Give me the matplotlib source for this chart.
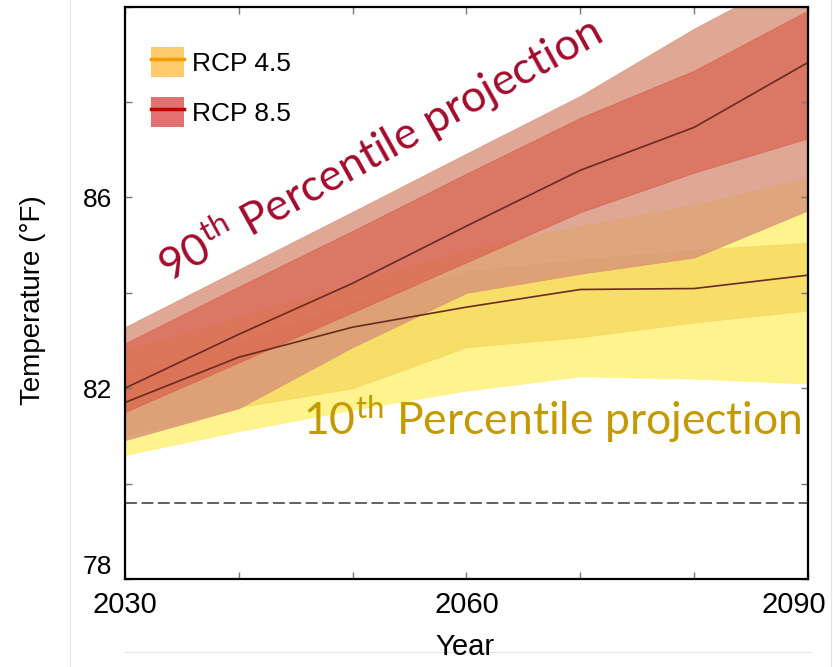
import matplotlib
matplotlib.use("Agg")
import matplotlib.pyplot as plt
from matplotlib.patches import Patch
from matplotlib.lines import Line2D
from matplotlib.transforms import ScaledTranslation

plt.rcParams['font.family'] = ['Liberation Sans', 'DejaVu Sans']
plt.rcParams['mathtext.fontset'] = 'custom'
plt.rcParams['mathtext.rm'] = 'Lato'

years = [2030, 2040, 2050, 2060, 2070, 2080, 2090]

# RCP 4.5: median, likely range (inner) and full range (outer)
rcp45_mid = [81.7, 82.65, 83.28, 83.7, 84.07, 84.09, 84.37]
rcp45_in_lo = [81.0, 81.6, 82.0, 82.86, 83.07, 83.38, 83.63]
rcp45_in_hi = [82.3, 83.0, 83.8, 84.45, 84.7, 84.9, 85.05]
rcp45_out_lo = [80.6, 81.1, 81.55, 81.95, 82.25, 82.2, 82.1]
rcp45_out_hi = [82.8, 83.5, 84.2, 84.9, 85.4, 85.85, 86.4]

# RCP 8.5
rcp85_mid = [82.0, 83.13, 84.2, 85.4, 86.57, 87.47, 88.83]
rcp85_in_lo = [81.5, 82.54, 83.59, 84.64, 85.69, 86.52, 87.24]
rcp85_in_hi = [82.94, 84.13, 85.3, 86.5, 87.67, 88.66, 89.92]
rcp85_out_lo = [80.91, 81.58, 82.86, 84.0, 84.4, 84.74, 85.73]
rcp85_out_hi = [83.28, 84.49, 85.7, 86.92, 88.13, 89.54, 90.8]

baseline_temp = 79.6

fig = plt.figure(figsize=(8.33, 6.67), dpi=100)
ax = fig.add_axes([0.150, 0.132, 0.820, 0.858])

ax.fill_between(years, rcp45_out_lo, rcp45_out_hi, color='#fff17a', alpha=0.85, lw=0.6)
ax.fill_between(years, rcp45_in_lo, rcp45_in_hi, color='#f0d050', alpha=0.6, lw=0.6)
ax.plot(years, rcp45_mid, color='#6b2a1f', lw=1.2)
ax.fill_between(years, rcp85_out_lo, rcp85_out_hi, color='#d89279', alpha=0.8, lw=0.6)
ax.fill_between(years, rcp85_in_lo, rcp85_in_hi, color='#d9503f', alpha=0.55, lw=0.6)
ax.plot(years, rcp85_mid, color='#6b2a1f', lw=1.2)

ax.axhline(baseline_temp, color='#555555', lw=1.3, dashes=(6.6, 2.5))

ax.set_xlim(2030, 2090)
ax.set_ylim(78, 90)
ax.set_xticks(years)
ax.set_xticklabels(['2030', '', '', '2060', '', '', '2090'])
ax.set_yticks([78, 80, 82, 84, 86, 88, 90])
ax.set_yticklabels(['78', '', '82', '', '86', '', ''])
ax.tick_params(direction='in', length=5, width=1, color='#777777',
               top=True, right=True, labelsize=19, pad=9)
plt.setp(ax.get_xticklabels(), fontsize=21)
for sp in ax.spines.values():
    sp.set_linewidth(1.6)
    sp.set_color('black')

# keep the end labels inside the frame
ax.yaxis.get_major_ticks()[0].label1.set_va('bottom')
lab = ax.xaxis.get_major_ticks()[-1].label1
lab.set_transform(lab.get_transform() + ScaledTranslation(-0.14, 0, fig.dpi_scale_trans))

fig.text(465 / 833, 6 / 667, 'Year', ha='center', va='bottom', fontsize=21)
fig.text(33 / 833, 1 - 300 / 667, 'Temperature (°F)', rotation=90,
         ha='center', va='center', fontsize=20)

h45 = (Patch(facecolor='#fdca6c', edgecolor='none'),
       Line2D([], [], color='#f39c00', lw=2.5))
h85 = (Patch(facecolor='#e27272', edgecolor='none'),
       Line2D([], [], color='#c00000', lw=2.5))
ax.legend([h45, h85], ['RCP 4.5', 'RCP 8.5'], loc='upper left',
          bbox_to_anchor=(0.038, 0.93), frameon=False, fontsize=19,
          handlelength=1.25, handleheight=1.4, handletextpad=0.3,
          labelspacing=0.75, borderpad=0, borderaxespad=0)

ax.text(2033.9, 84.2, '90$^{\\mathrm{th}}$ Percentile projection', rotation=29,
        rotation_mode='anchor', ha='left', va='baseline', color='#a30b2c',
        fontsize=32, family='Lato')
ax.text(2045.6, 81.02, '10$^{\\mathrm{th}}$ Percentile projection',
        ha='left', va='baseline', color='#c59a00', fontsize=32, family='Lato')

# light frame lines around the panel
fig.add_artist(Line2D([70 / 833, 70 / 833], [0, 1], transform=fig.transFigure,
                      color='#e2e2e2', lw=0.8))
fig.add_artist(Line2D([831 / 833, 831 / 833], [0, 1], transform=fig.transFigure,
                      color='#e2e2e2', lw=0.8))
fig.add_artist(Line2D([125 / 833, 812 / 833], [15 / 667, 15 / 667],
                      transform=fig.transFigure, color='#e6e6e6', lw=0.8, zorder=0))

fig.savefig('out.png', dpi=100)
